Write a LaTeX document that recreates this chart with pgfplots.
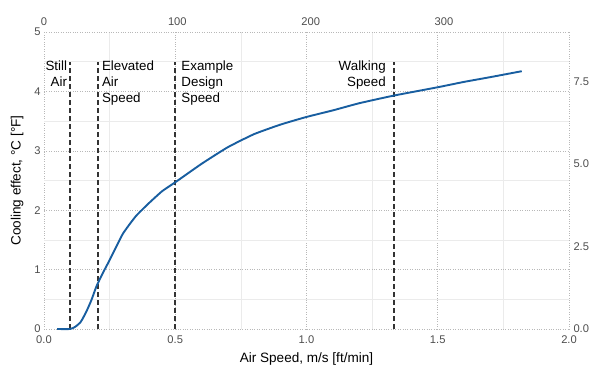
\documentclass[border=0pt]{standalone}
\usepackage{pgfplots}
\pgfplotsset{compat=1.18}
\usepackage{fontspec}
\setmainfont{Liberation Sans}
\definecolor{curve}{RGB}{24,94,160}
\definecolor{ticklab}{RGB}{77,77,77}
\definecolor{vline}{RGB}{51,51,51}
\begin{document}
\begin{tikzpicture}
\begin{axis}[
  at={(0,0)}, anchor=south west,
  scale only axis, width=525bp, height=297bp,
  xmin=0, xmax=2, ymin=0, ymax=5,
  xtick={0,0.5,1,1.5,2}, ytick={0,1,2,3,4,5},
  minor x tick num=1, minor y tick num=1,
  xmajorgrids, ymajorgrids, xminorgrids, yminorgrids,
  major grid style={dotted, black!28, line width=0.6bp},
  minor grid style={black!8, line width=0.6bp},
  axis line style={draw=none},
  major tick length=0pt, minor tick length=0pt,
  /pgf/number format/assume math mode=true,
  xticklabel style={yshift=-3bp, /pgf/number format/.cd, fixed, fixed zerofill, precision=1},
  tick label style={font=\fontsize{11.2}{13}\selectfont, text=ticklab},
  label style={font=\fontsize{13.6}{16}\selectfont},
  xlabel={Air Speed, m/s [ft/min]},
  ylabel={Cooling effect, °C [°F]},
  xlabel style={yshift=-2bp},
  ylabel style={yshift=4bp},
  clip=false,
]
\addplot[vline, line width=1.8bp, dash pattern=on 5bp off 3bp] coordinates {(0.1,0) (0.1,4.5)};
\addplot[vline, line width=1.8bp, dash pattern=on 5bp off 3bp] coordinates {(0.205,0) (0.205,4.5)};
\addplot[vline, line width=1.8bp, dash pattern=on 5bp off 3bp] coordinates {(0.5,0) (0.5,4.5)};
\addplot[vline, line width=1.8bp, dash pattern=on 5bp off 3bp] coordinates {(1.333,0) (1.333,4.5)};
\addplot[curve, line width=1.9bp, smooth, tension=0.3] coordinates {
(0.05,0) (0.1,0) (0.12,0.04) (0.14,0.12) (0.16,0.28) (0.18,0.48) (0.2,0.72)
(0.225,0.95) (0.25,1.16) (0.3,1.6) (0.35,1.9) (0.4,2.12) (0.45,2.32) (0.5,2.47)
(0.6,2.78) (0.7,3.06) (0.8,3.28) (0.9,3.44) (1.0,3.57) (1.1,3.68) (1.2,3.8)
(1.333,3.93) (1.5,4.07) (1.6,4.16) (1.7,4.24) (1.82,4.34)};
\node[anchor=north east, align=right, font=\fontsize{13.4}{16}\selectfont, inner sep=0pt, xshift=-3bp, yshift=1bp] at (axis cs:0.1,4.5) {Still\\Air};
\node[anchor=north west, align=left, font=\fontsize{13.4}{16}\selectfont, inner sep=0pt, xshift=4bp, yshift=1bp] at (axis cs:0.205,4.5) {Elevated\\Air\\Speed};
\node[anchor=north west, align=left, font=\fontsize{13.4}{16}\selectfont, inner sep=0pt, xshift=6bp, yshift=1bp] at (axis cs:0.5,4.5) {Example\\Design\\Speed};
\node[anchor=north east, align=right, font=\fontsize{13.4}{16}\selectfont, inner sep=0pt, xshift=-8bp, yshift=1bp] at (axis cs:1.333,4.5) {Walking\\Speed};
\end{axis}
\begin{axis}[
  at={(0,0)}, anchor=south west,
  scale only axis, width=525bp, height=297bp,
  xmin=0, xmax=393.7, ymin=0, ymax=9,
  axis x line*=top, axis y line*=right,
  xtick={0,100,200,300}, ytick={0,2.5,5,7.5},
  axis line style={draw=none},
  major tick length=0pt,
  /pgf/number format/assume math mode=true,
  yticklabel style={xshift=1bp, /pgf/number format/.cd, fixed, fixed zerofill, precision=1},
  xticklabel style={yshift=3bp},
  tick label style={font=\fontsize{11.2}{13}\selectfont, text=ticklab},
]
\end{axis}
\pgfresetboundingbox
\path (-44bp,-50bp) rectangle (560bp,329bp);
\end{tikzpicture}
\end{document}
